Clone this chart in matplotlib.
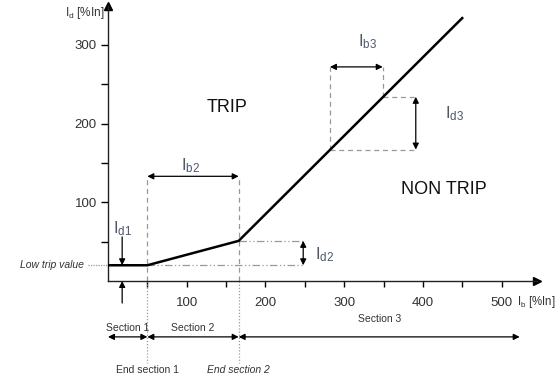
import matplotlib
matplotlib.use("Agg")
import matplotlib.pyplot as plt

plt.rcParams['font.family'] = ['Liberation Sans', 'DejaVu Sans']
plt.rcParams['mathtext.fontset'] = 'custom'
plt.rcParams['mathtext.rm'] = 'Liberation Sans'
plt.rcParams['mathtext.it'] = 'Liberation Sans:italic'

# Operate characteristic: bias current Ib vs differential current Id (both in % of In)
curve_ib = [0, 50, 166, 450]
curve_id = [20, 20, 51, 334]

low_trip = 20
end_section_1 = 50
end_section_2 = 166

# Slope-construction helpers for section 3
ib3_left, ib3_right = 282, 349
id3_low, id3_high = 167, 234

x_ticks = [50, 100, 150, 200, 250, 300, 350, 400, 450, 500]
x_tick_labels = ['', '100', '', '200', '', '300', '', '400', '', '500']
y_ticks = [50, 100, 150, 200, 250, 300]
y_tick_labels = ['', '100', '', '200', '', '300']

TXT = '#333333'
GREY = '#999999'
LBL = '#4d5868'

fig = plt.figure(figsize=(5.58, 3.81), dpi=100)
ax = fig.add_axes([108 / 558, 100 / 381, 429 / 558, 275.5 / 381])
ax.set_xlim(0, 545)
ax.set_ylim(0, 350)

for s in ('top', 'right'):
    ax.spines[s].set_visible(False)
for s in ('left', 'bottom'):
    ax.spines[s].set_linewidth(1.0)
    ax.spines[s].set_color('#222222')

ax.set_xticks(x_ticks)
ax.set_xticklabels(x_tick_labels)
ax.set_yticks(y_ticks)
ax.set_yticklabels(y_tick_labels)
ax.tick_params(axis='x', length=4.3, width=1.0, pad=7, labelsize=9.5, labelcolor=TXT)
ax.tick_params(axis='y', length=5, width=1.0, pad=3, labelsize=9.5, labelcolor=TXT)

# axis arrowheads
ax.plot(1, 0, '>', color='k', ms=6, transform=ax.transAxes, clip_on=False)
ax.plot(0, 1, '^', color='k', ms=6, transform=ax.transAxes, clip_on=False)

# axis titles
ax.text(519, -27, r'I$_\mathregular{b}$ [%In]', fontsize=8.3, color=TXT,
        ha='left', va='center', clip_on=False)
ax.text(-5, 340, r'I$_\mathregular{d}$ [%In]', fontsize=8.5, color=TXT,
        ha='right', va='center', clip_on=False)

# characteristic
ax.plot(curve_ib, curve_id, color='k', lw=1.8, solid_joinstyle='miter', zorder=5)

# section boundaries
for xb in (end_section_1, end_section_2):
    ax.plot([xb, xb], [0, 133], color=GREY, lw=0.9, ls=(0, (4, 3)))
    ax.plot([xb, xb], [0, -104], color=GREY, lw=0.9, ls=(0, (1, 1.5)), clip_on=False)

arrow = dict(arrowstyle='<|-|>', color='k', lw=0.9, mutation_scale=9,
             shrinkA=0, shrinkB=0)
up_arrow = dict(arrowstyle='-|>', color='k', lw=0.9, mutation_scale=9,
                shrinkA=0, shrinkB=0)

# Ib2 span
ax.annotate('', xy=(end_section_1, 133), xytext=(end_section_2, 133), arrowprops=arrow)
ax.text(105, 147, r'$\mathregular{I_{b2}}$', fontsize=12, color=LBL, ha='center', va='center')

# Id2 rise in section 2
ax.plot([end_section_2, 248], [51, 51], color=GREY, lw=0.9, ls=(0, (6, 2, 1, 2, 1, 2)))
ax.plot([end_section_1, 248], [low_trip, low_trip], color=GREY, lw=0.9,
        ls=(0, (6, 2, 1, 2, 1, 2)))
ax.annotate('', xy=(248, low_trip), xytext=(248, 51), arrowprops=arrow)
ax.text(263, 33, r'$\mathregular{I_{d2}}$', fontsize=12, color=LBL, ha='left', va='center')

# Ib3 / Id3 slope triangle
ax.plot([ib3_left, ib3_left], [id3_low, 272], color=GREY, lw=0.9, ls=(0, (4, 3)))
ax.plot([ib3_right, ib3_right], [id3_high, 272], color=GREY, lw=0.9, ls=(0, (4, 3)))
ax.plot([ib3_right, 391], [id3_high, id3_high], color=GREY, lw=0.9, ls=(0, (4, 3)))
ax.plot([ib3_left, 391], [id3_low, id3_low], color=GREY, lw=0.9, ls=(0, (4, 3)))
ax.annotate('', xy=(ib3_left, 272), xytext=(ib3_right, 272), arrowprops=arrow)
ax.annotate('', xy=(391, id3_low), xytext=(391, id3_high), arrowprops=arrow)
ax.text(330, 304, r'$\mathregular{I_{b3}}$', fontsize=12, color=LBL, ha='center', va='center')
ax.text(428, 213, r'$\mathregular{I_{d3}}$', fontsize=12, color=LBL, ha='left', va='center')

# Id1 (low trip level)
ax.annotate('', xy=(18, low_trip), xytext=(18, 56), arrowprops=up_arrow)
ax.annotate('', xy=(18, 0), xytext=(18, -28), arrowprops=up_arrow, annotation_clip=False)
ax.text(18, 66, r'$\mathregular{I_{d1}}$', fontsize=12, color=LBL, ha='center', va='center')
ax.plot([-25, 0], [low_trip, low_trip], color=GREY, lw=0.9, ls=(0, (1, 1)), clip_on=False)
ax.text(-31, low_trip, 'Low trip value', fontsize=7.5, style='italic', color=TXT,
        ha='right', va='center', clip_on=False)

# region labels
ax.text(151, 221, 'TRIP', fontsize=13, color='#111111', ha='center', va='center')
ax.text(427, 116, 'NON TRIP', fontsize=13, color='#111111', ha='center', va='center')

# section spans below the axis
sections = [('Section 1', 0, end_section_1, -60),
            ('Section 2', end_section_1, end_section_2, -60),
            ('Section 3', end_section_2, 523, -48)]
for name, x0, x1, ty in sections:
    ax.annotate('', xy=(x0, -71), xytext=(x1, -71), arrowprops=arrow, annotation_clip=False)
    ax.text((x0 + x1) / 2, ty, name, fontsize=7.5, color=TXT, ha='center', va='center',
            clip_on=False)

ax.text(end_section_1, -113, 'End section 1', fontsize=7.5, color=TXT, ha='center',
        va='center', clip_on=False)
ax.text(end_section_2, -113, 'End section 2', fontsize=7.5, style='italic', color=TXT,
        ha='center', va='center', clip_on=False)

fig.savefig('out.png', dpi=100)
